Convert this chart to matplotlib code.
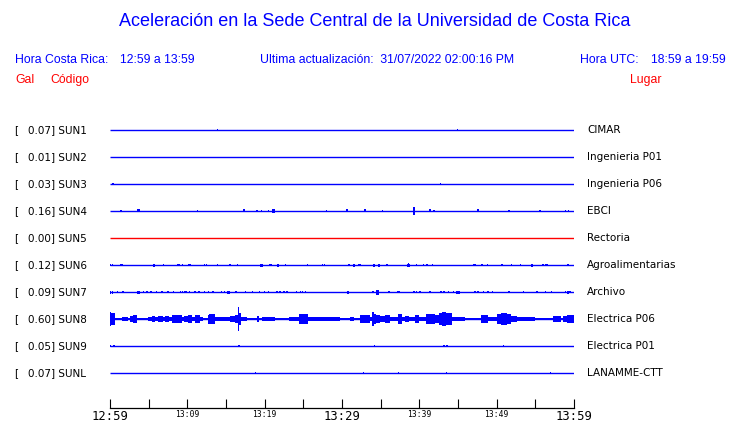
# Acceleration traces of the UCR central campus stations, one line per station

import matplotlib
matplotlib.use("Agg")
import matplotlib.pyplot as plt
import matplotlib.transforms as mtransforms

# station data
codes = ["SUN1", "SUN2", "SUN3", "SUN4", "SUN5", "SUN6", "SUN7", "SUN8", "SUN9", "SUNL"]
gal = [0.07, 0.01, 0.03, 0.16, 0.00, 0.12, 0.09, 0.60, 0.05, 0.07]
places = ["CIMAR", "Ingenieria P01", "Ingenieria P06", "EBCI", "Rectoria",
          "Agroalimentarias", "Archivo", "Electrica P06", "Electrica P01", "LANAMME-CTT"]

# x axis: minutes after 12:59
tick_minutes = list(range(0, 61, 5))
tick_labels = ["12:59", "", "13:09", "", "13:19", "", "13:29", "", "13:39", "", "13:49", "", "13:59"]
big_labels = ["12:59", "13:29", "13:59"]

# spikes: (minute, half amplitude, duration in minutes)
events = {
    "SUN1": [(13.9, 1.3, 0), (44.9, 1.3, 0)],
    "SUN2": [],
    "SUN3": [(0.4, 1.0, 0), (42.7, 1.0, 0)],
    "SUN4": [(1.4, 1.3, 0), (3.7, 1.5, 0.45), (11.3, 1.3, 0), (17.3, 1.5, 0.2), (19.0, 1.2, 0),
             (19.6, 1.0, 0), (20.5, 1.2, 0), (21.1, 1.6, 0.4), (28.0, 1.0, 0), (30.6, 1.5, 0.25),
             (33.0, 1.5, 0.25), (35.2, 1.3, 0), (39.3, 4.0, 0), (39.3, 2.0, 0.35), (41.4, 1.5, 0.25),
             (41.9, 1.2, 0), (47.6, 1.5, 0.25), (51.6, 1.3, 0), (55.6, 1.0, 0.2), (58.9, 1.0, 0),
             (59.3, 1.0, 0)],
    "SUN5": [],
    "SUN6": [(0.1, 1.4, 0), (0.3, 1.4, 0), (1.4, 1.4, 0), (1.6, 1.4, 0), (5.7, 1.5, 0.25),
             (6.9, 1.0, 0), (8.8, 1.4, 0), (9.0, 1.4, 0), (9.4, 1.4, 0), (10.2, 1.4, 0),
             (10.4, 1.4, 0), (12.2, 1.4, 0), (12.5, 1.4, 0), (13.9, 1.4, 0), (15.5, 1.0, 0),
             (16.5, 1.0, 0), (19.6, 1.5, 0.3), (20.7, 1.3, 0), (20.9, 1.3, 0), (21.7, 1.5, 0.2),
             (22.7, 1.3, 0), (25.5, 1.3, 0), (27.5, 1.4, 0), (27.7, 1.4, 0), (30.9, 1.3, 0),
             (31.5, 1.5, 0.25), (32.2, 1.4, 0), (32.4, 1.4, 0), (34.1, 1.5, 0.25), (34.8, 1.5, 0.25),
             (35.8, 1.3, 0), (38.6, 2.3, 0), (38.6, 1.5, 0.35), (39.6, 1.3, 0), (40.5, 1.0, 0),
             (41.0, 1.0, 0), (41.7, 1.3, 0), (47.0, 1.4, 0), (47.2, 1.4, 0), (48.1, 1.3, 0),
             (48.8, 1.0, 0), (50.7, 1.3, 0), (51.9, 1.3, 0), (53.1, 1.0, 0), (54.6, 1.5, 0.25),
             (56.0, 1.4, 0), (56.3, 1.4, 0), (56.5, 1.4, 0), (59.2, 1.3, 0)],
    "SUN7": [(0.1, 1.5, 0.15), (0.3, 1.5, 0.15), (1.0, 1.3, 0), (1.7, 1.0, 0), (3.7, 1.5, 0.35),
             (4.3, 1.0, 0), (4.8, 1.4, 0.15), (5.3, 1.0, 0), (6.0, 1.4, 0), (6.7, 1.0, 0),
             (7.5, 1.4, 0.15), (8.2, 1.4, 0), (9.1, 1.4, 0), (9.4, 1.4, 0), (9.7, 1.4, 0),
             (9.9, 1.4, 0), (10.3, 1.0, 0), (11.0, 1.3, 0), (11.5, 1.3, 0), (12.2, 1.4, 0),
             (12.7, 1.0, 0), (13.3, 1.3, 0), (14.4, 1.0, 0), (14.8, 1.3, 0), (15.3, 1.5, 0.45),
             (16.3, 1.4, 0), (17.5, 1.0, 0), (18.4, 1.4, 0.15), (19.3, 1.3, 0), (20.0, 1.3, 0),
             (20.5, 1.3, 0), (21.6, 1.3, 0), (22.0, 1.3, 0), (22.5, 1.3, 0), (22.9, 1.3, 0),
             (24.1, 1.0, 0), (24.6, 1.3, 0), (24.9, 1.3, 0), (25.3, 1.3, 0), (30.8, 1.5, 0.2),
             (34.0, 1.4, 0), (34.6, 2.5, 0.3), (36.1, 1.0, 0), (37.3, 1.2, 0.35), (39.3, 1.3, 0),
             (39.6, 1.3, 0), (40.1, 1.3, 0), (41.4, 1.0, 0), (42.8, 1.3, 0), (43.2, 1.4, 0.15),
             (43.8, 1.3, 0), (44.4, 1.3, 0), (45.0, 1.5, 0.4), (47.2, 1.3, 0), (47.6, 1.3, 0),
             (48.3, 1.3, 0), (48.9, 1.3, 0), (49.5, 1.4, 0.15), (51.6, 1.3, 0), (53.5, 1.0, 0),
             (55.2, 1.0, 0), (56.3, 1.3, 0), (57.1, 1.3, 0), (58.9, 1.4, 0), (59.2, 1.5, 0.25),
             (59.5, 1.4, 0)],
    "SUN8": [(0.1, 7.0, 0), (0.35, 6.0, 0), (12.8, 4.5, 0), (16.6, 12.0, 0), (24.5, 4.5, 0),
             (34.0, 7.0, 0), (40.9, 4.5, 0), (43.0, 7.0, 0), (43.4, 6.5, 0), (50.6, 5.5, 0)],
    "SUN9": [(0.1, 1.3, 0), (0.5, 1.3, 0), (16.7, 1.3, 0), (34.2, 1.3, 0.12), (43.2, 1.3, 0),
             (43.6, 1.3, 0), (50.9, 1.0, 0)],
    "SUNL": [(18.8, 1.3, 0), (32.8, 1.0, 0), (37.3, 1.4, 0.2), (43.5, 1.0, 0), (57.0, 1.3, 0)],
}

# SUN8 envelope (minute, half amplitude), held until the next point
sun8_t = [0.0, 0.65, 1.6, 2.3, 2.6, 3.0, 3.5, 4.9, 5.4, 5.8, 6.25, 6.8, 7.1, 7.6, 8.0, 8.6,
          9.35, 9.6, 10.1, 10.6, 11.0, 11.6, 12.0, 12.8, 13.6, 14.1, 14.9, 15.5, 16.2, 16.6,
          16.9, 17.7, 19.0, 19.3, 19.6, 21.4, 22.4, 22.6, 23.1, 24.5, 25.6, 26.9, 28.2, 29.7,
          30.2, 31.0, 31.6, 32.3, 33.6, 34.0, 34.4, 34.9, 35.6, 36.2, 36.9, 37.2, 37.7, 38.1,
          38.6, 39.4, 40.0, 40.9, 42.0, 42.5, 43.1, 43.5, 44.2, 44.6, 45.9, 46.6, 48.0, 48.9,
          49.6, 50.1, 50.6, 51.3, 51.8, 52.6, 54.9, 55.4, 57.3, 58.3, 58.6, 59.1, 60.0]
sun8_amp = [5.0, 1.2, 2.0, 1.2, 2.5, 3.0, 1.0, 1.8, 2.5, 1.8, 2.5, 1.6, 2.6, 1.5, 3.2, 3.5,
            1.5, 2.8, 3.0, 2.0, 3.3, 1.5, 1.0, 4.0, 1.6, 2.0, 1.3, 2.5, 3.5, 5.0,
            2.0, 1.2, 2.5, 1.2, 1.8, 0.6, 1.0, 0.6, 1.5, 4.0, 1.8, 2.0, 1.5, 1.0,
            0.7, 1.3, 0.8, 3.5, 2.0, 4.0, 3.0, 2.5, 3.0, 2.0, 1.5, 4.0, 2.0, 2.5,
            1.5, 3.0, 1.5, 4.0, 3.0, 5.0, 6.0, 5.0, 2.0, 1.5, 1.2, 1.0, 3.5, 1.5,
            2.0, 4.0, 5.0, 4.0, 2.5, 1.5, 1.2, 0.8, 2.5, 0.8, 2.5, 3.0, 3.0]

BLUE = "#0000ff"
RED = "#ff0000"
W, H = 740, 423
ROW_PX = 27.0      # pixels between traces
SUN8_GAIN = 1.2    # envelope drawn a bit fuller
MIN_DUR = 0.18     # narrowest spike, in minutes (~1.4 px)


def fx(px):
    return px / W


def fy(py):
    return 1 - py / H


fig = plt.figure(figsize=(W / 100, H / 100), dpi=100)
ax = fig.add_axes([fx(110), fy(408), fx(574) - fx(110), fy(110) - fy(408)])
ax.set_xlim(0, 60)
ax.set_ylim(len(codes) - 1 + (408 - 373) / ROW_PX, -(130 - 110) / ROW_PX)

for i, code in enumerate(codes):
    col = RED if code == "SUN5" else BLUE
    ax.plot([0, 60], [i, i], color=col, lw=1.0, solid_capstyle="butt")
    if code == "SUN8":
        ax.fill_between(sun8_t, [i - SUN8_GAIN * a / ROW_PX for a in sun8_amp],
                        [i + SUN8_GAIN * a / ROW_PX for a in sun8_amp],
                        step="post", color=col, lw=0)
    for (t, a, d) in events[code]:
        ax.bar(t, 2 * a / ROW_PX, width=max(d, MIN_DUR), bottom=i - a / ROW_PX,
               color=col, linewidth=0, align="center")

# axis style
for s in ["left", "right", "top"]:
    ax.spines[s].set_visible(False)
ax.spines["bottom"].set_linewidth(0.9)
ax.set_yticks([])
ax.set_xticks(tick_minutes)
ax.set_xticklabels(tick_labels, family="DejaVu Sans Mono")
ax.tick_params(axis="x", direction="in", length=6.2, width=0.8, pad=1.5)
for lab in ax.get_xticklabels():
    lab.set_fontsize(8.8 if lab.get_text() in big_labels else 5.8)

# station labels
trans = mtransforms.blended_transform_factory(fig.transFigure, ax.transData)
for i, code in enumerate(codes):
    ax.text(fx(14), i, "[", transform=trans, va="center", ha="left", fontsize=7.5)
    ax.text(fx(27.5), i, "{:.2f}] {}".format(gal[i], code), transform=trans,
            va="center", ha="left", fontsize=7.5)
    ax.text(fx(587), i, places[i], transform=trans, va="center", ha="left", fontsize=7.5)

# header
hf = "Liberation Sans"
fig.text(fx(375), fy(22), "Aceleración en la Sede Central de la Universidad de Costa Rica",
         ha="center", va="center", color=BLUE, fontsize=13.0, family=hf)
fig.text(fx(15), fy(60), "Hora Costa Rica:", color=BLUE, fontsize=8.8, family=hf, va="center")
fig.text(fx(120), fy(60), "12:59 a 13:59", color=BLUE, fontsize=8.8, family=hf, va="center")
fig.text(fx(260), fy(60), "Ultima actualización:  31/07/2022 02:00:16 PM", color=BLUE,
         fontsize=8.8, family=hf, va="center")
fig.text(fx(580), fy(60), "Hora UTC:", color=BLUE, fontsize=8.8, family=hf, va="center")
fig.text(fx(651), fy(60), "18:59 a 19:59", color=BLUE, fontsize=8.8, family=hf, va="center")
fig.text(fx(15), fy(80), "Gal", color=RED, fontsize=8.8, family=hf, va="center")
fig.text(fx(50), fy(80), "Código", color=RED, fontsize=8.8, family=hf, va="center")
fig.text(fx(630), fy(80), "Lugar", color=RED, fontsize=8.8, family=hf, va="center")

fig.savefig("out.png", dpi=100)
